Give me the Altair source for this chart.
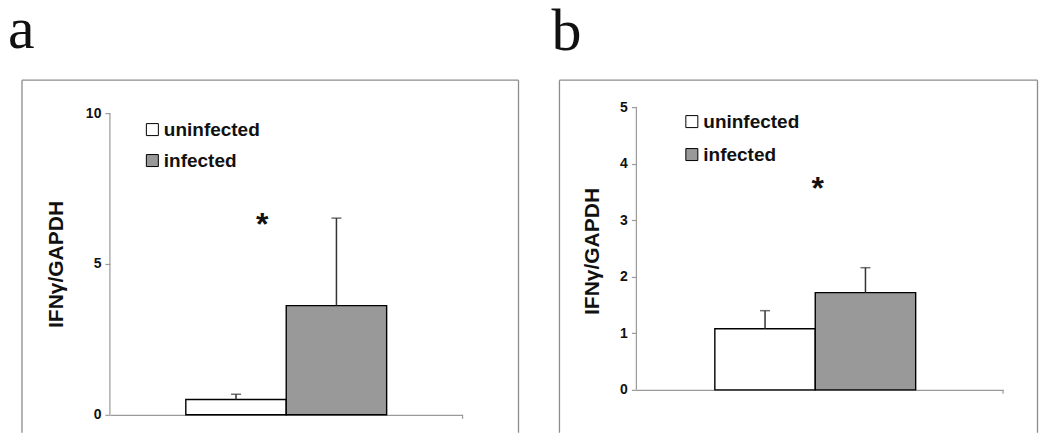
import altair as alt
import pandas as pd

# ---- data ----
statuses = ["uninfected", "infected"]
bar_colors = ["#ffffff", "#999999"]
panel_labels = ["a", "b"]
y_title = "IFNγ/GAPDH"

a_mean = [0.51, 3.62]
a_upper = [0.68, 6.52]
a_ticks = [0, 5, 10]
a_star = [6.52]

b_mean = [1.08, 1.72]
b_upper = [1.40, 2.16]
b_ticks = [0, 1, 2, 3, 4, 5]
b_star = [3.68]

FONT = "Liberation Sans"
AXIS_GREY = "#9a9a9a"
FRAME_GREY = "#8c8c8c"
BOTTOM = 326  # bottom of the drawing, relative to the plot tops


def panel(label, mean, upper, ticks, star, ymax, W, H, pad_outer, g, anchor=False):
    df = pd.DataFrame({"group": [""] * 2, "status": statuses, "mean": mean, "upper": upper})
    one = pd.DataFrame({"group": [""], "label": [label], "star": star,
                        "zero": [ticks[0]], "top": [ticks[-1]]})
    xenc = alt.X("group:N", title=None,
                 scale=alt.Scale(paddingInner=0, paddingOuter=pad_outer),
                 axis=alt.Axis(labels=False, ticks=False, domainColor=AXIS_GREY, domainWidth=1.2))
    xoff = alt.XOffset("status:N", scale=alt.Scale(domain=statuses, paddingInner=0, paddingOuter=0))
    yscale = alt.Scale(domain=[0, ymax], nice=False, zero=True)

    bars = alt.Chart(df).mark_bar(stroke="black", strokeWidth=1.4).encode(
        x=xenc, xOffset=xoff,
        y=alt.Y("mean:Q", scale=yscale,
                axis=alt.Axis(values=ticks, format="d", domain=False, grid=False,
                              tickColor=AXIS_GREY, tickSize=5, tickWidth=1.2,
                              labelFont=FONT, labelFontSize=14, labelFontWeight="bold",
                              labelColor="#111", labelPadding=4,
                              title=y_title, titleFont=FONT, titleFontSize=21,
                              titleFontWeight="bold", titleColor="#111", titleAngle=270,
                              titleAlign="center", titleBaseline="middle",
                              titleX=g["tx"], titleY=g["ty"])),
        color=alt.Color("status:N", scale=alt.Scale(domain=statuses, range=bar_colors),
                        legend=alt.Legend(title=None, orient="none", legendX=g["lx"], legendY=g["ly"],
                                          direction="vertical", symbolType="square", symbolSize=144,
                                          symbolStrokeColor="black", symbolStrokeWidth=1,
                                          labelFont=FONT, labelFontSize=19, labelFontWeight="bold",
                                          labelColor="#111", labelOffset=2, rowPadding=g["rp"],
                                          padding=0)),
    )
    err = alt.Chart(df).mark_rule(color="#333333", strokeWidth=1.5).encode(
        x=xenc, xOffset=xoff, y=alt.Y("mean:Q", scale=yscale), y2="upper:Q")
    cap = alt.Chart(df).mark_tick(color="#333333", thickness=1.5, size=10).encode(
        x=xenc, xOffset=xoff, y=alt.Y("upper:Q", scale=yscale))
    yline = alt.Chart(one).mark_rule(color=AXIS_GREY, strokeWidth=1.2).encode(
        x=alt.value(0), y=alt.Y("zero:Q", scale=yscale), y2="top:Q")
    xend = alt.Chart(one).mark_rule(color=AXIS_GREY, strokeWidth=1.2).encode(
        x=alt.value(W), y=alt.value(H), y2=alt.value(H + 4))
    star_t = alt.Chart(one).mark_text(text="*", font=FONT, fontSize=32, fontWeight="bold",
                                      color="#111", baseline="middle", dx=g["sdx"], dy=7).encode(
        x=xenc, y=alt.Y("star:Q", scale=yscale))
    lab = alt.Chart(one).mark_text(font="Liberation Serif", fontSize=60, align="left",
                                   baseline="alphabetic", color="#111").encode(
        x=alt.value(g["px"]), y=alt.value(g["py"]), text="label:N")
    fl = alt.Chart(one).mark_rule(color=FRAME_GREY, strokeWidth=1.3).encode(
        x=alt.value(g["fl"]), y=alt.value(g["ft"]), y2=alt.value(BOTTOM))
    fr = alt.Chart(one).mark_rule(color=FRAME_GREY, strokeWidth=1.3).encode(
        x=alt.value(g["fr"]), y=alt.value(g["ft"]), y2=alt.value(BOTTOM))
    ft = alt.Chart(one).mark_rule(color=FRAME_GREY, strokeWidth=1.3).encode(
        x=alt.value(g["fl"]), x2=alt.value(g["fr"]), y=alt.value(g["ft"]))
    layers = []
    if anchor:
        layers.append(alt.Chart(one).mark_rect(opacity=0).encode(
            x=alt.value(-102), x2=alt.value(929), y=alt.value(-110), y2=alt.value(BOTTOM)))
    layers += [fl, fr, ft, bars, err, cap, yline, xend, star_t, lab]
    return alt.layer(*layers).properties(width=W, height=H)


pa = panel(panel_labels[0], a_mean, a_upper, a_ticks, a_star, 10.2, 353, 308, 0.378,
           dict(tx=-53, ty=157, lx=33, ly=13, rp=11, sdx=-24, px=-102, py=-59,
                fl=-88, fr=409, ft=-27), anchor=True)
pb = panel(panel_labels[1], b_mean, b_upper, b_ticks, b_star, 5.0, 367, 283, 0.374,
           dict(tx=-44, ty=144, lx=46, ly=5, rp=13, sdx=-2, px=-85, py=-57,
                fl=-77, fr=401.5, ft=-27))

chart = alt.hconcat(pa, pb, spacing=174, bounds="flush").resolve_scale(
    color="independent", x="independent", y="independent"
).resolve_legend(color="independent").properties(
    padding={"top": -11, "left": 0, "right": 0, "bottom": 0}
).configure_view(strokeWidth=0)

chart.save("out.html", embed_options={"renderer": "svg", "actions": False})
